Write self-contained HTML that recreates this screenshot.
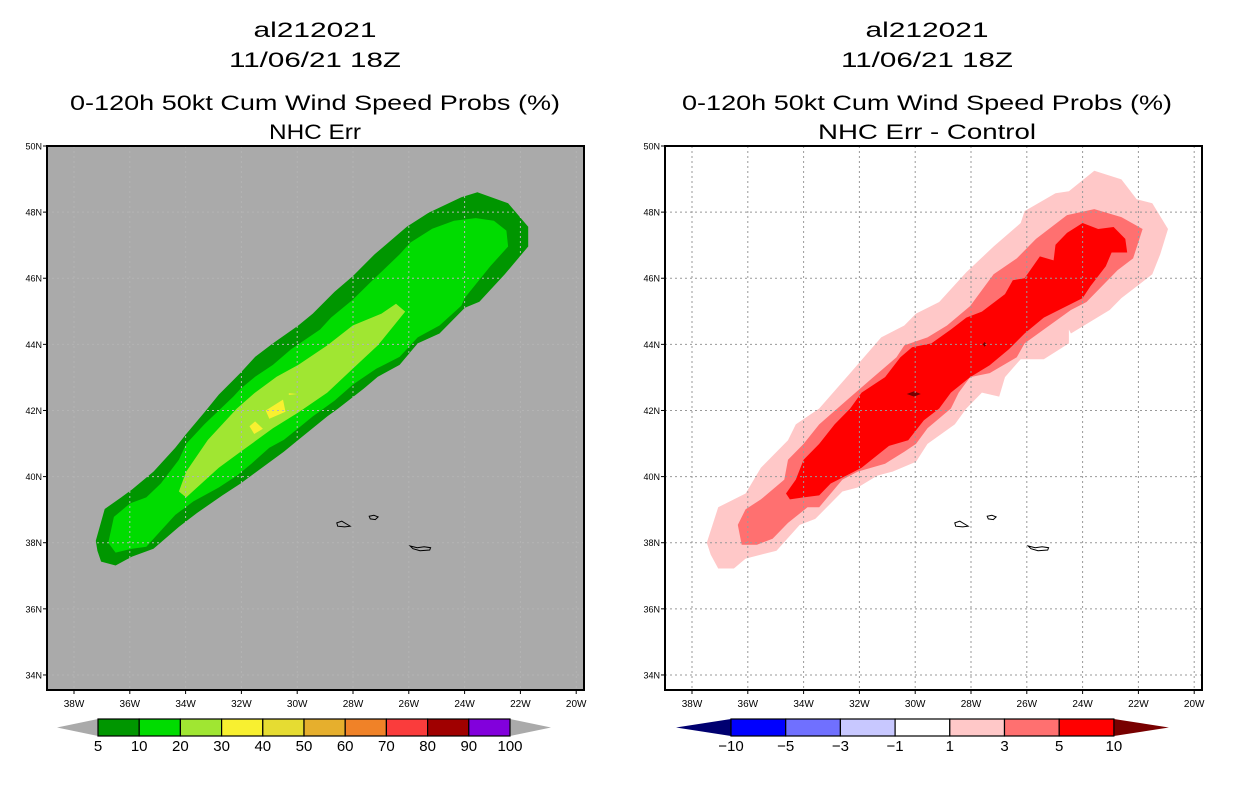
<!DOCTYPE html>
<html><head><meta charset="utf-8"><style>
html,body{margin:0;padding:0;background:#fff;}
svg{display:block;}
text{font-family:"Liberation Sans",sans-serif;}
</style></head><body>
<svg id="s" width="1236" height="800" viewBox="0 0 1236 800" xmlns="http://www.w3.org/2000/svg"></svg>
<script>
// ---- data (lon, lat) ----
const lonTicks=[-38,-36,-34,-32,-30,-28,-26,-24,-22,-20];
const lonTickLabels=["38W","36W","34W","32W","30W","28W","26W","24W","22W","20W"];
const latTicks=[50,48,46,44,42,40,38,36,34];
const latTickLabels=["50N","48N","46N","44N","42N","40N","38N","36N","34N"];

const probLevel5=[[-37.22,38.06],[-36.9,39.02],[-36.31,39.37],[-35.92,39.61],[-35.15,40.15],[-34.37,40.87],[-33.98,41.29],[-33.33,41.94],[-32.81,42.48],[-32.03,43.14],[-31.51,43.62],[-30.87,44.03],[-29.96,44.57],[-29.44,44.93],[-28.66,45.59],[-28.01,46.06],[-27.23,46.72],[-26.07,47.56],[-25.29,47.98],[-24.12,48.45],[-23.54,48.6],[-22.44,48.27],[-21.72,47.56],[-21.72,46.96],[-22.56,46.12],[-23.47,45.29],[-23.99,45.11],[-24.9,44.33],[-25.68,44.03],[-26.33,43.38],[-27.11,43.02],[-27.62,42.66],[-28.53,42.06],[-28.92,41.82],[-29.96,41.11],[-30.48,40.75],[-31.26,40.27],[-32.03,39.79],[-32.68,39.43],[-33.59,38.9],[-34.24,38.48],[-35.15,37.82],[-35.92,37.58],[-36.51,37.31],[-37.03,37.43],[-37.16,37.76]];
const probLevel10=[[-36.77,38.0],[-36.57,38.78],[-35.99,39.19],[-35.41,39.37],[-34.89,39.79],[-34.24,40.51],[-33.98,40.99],[-33.33,41.58],[-32.29,42.42],[-32.03,42.66],[-31.51,43.02],[-30.87,43.38],[-30.22,43.85],[-29.18,44.45],[-28.79,44.81],[-28.01,45.35],[-27.36,45.89],[-26.33,46.72],[-25.94,47.08],[-25.16,47.5],[-24.38,47.74],[-23.6,47.82],[-22.95,47.74],[-22.5,47.44],[-22.44,46.96],[-23.08,46.36],[-23.99,45.41],[-24.12,45.17],[-24.9,44.57],[-25.68,44.21],[-26.33,43.62],[-27.17,43.26],[-28.01,42.78],[-28.66,42.3],[-29.44,41.82],[-29.96,41.46],[-30.48,41.11],[-31.0,40.87],[-31.64,40.39],[-32.16,40.03],[-32.81,39.67],[-33.72,39.25],[-34.37,38.84],[-34.89,38.36],[-35.41,37.88],[-35.92,37.82],[-36.51,37.7]];
const probLevel20=[[-34.24,39.55],[-33.98,40.15],[-33.2,41.11],[-32.16,42.06],[-31.51,42.54],[-30.74,43.02],[-29.96,43.38],[-28.92,43.97],[-28.01,44.57],[-26.98,44.93],[-26.46,45.23],[-26.13,44.99],[-27.11,43.97],[-28.01,43.26],[-28.92,42.54],[-29.96,41.94],[-30.87,41.46],[-32.03,40.75],[-32.81,40.27],[-33.98,39.37]];
const probLevel30a=[[-31.13,42.0],[-30.51,42.33],[-30.42,41.96],[-31.0,41.75]];
const probLevel30b=[[-31.71,41.52],[-31.51,41.67],[-31.23,41.45],[-31.54,41.29]];
const probLevel30c=[[-30.3,42.52],[-30.0,42.5],[-30.3,42.47]];

const diffLevel1=[[-37.47,38.0],[-37.06,39.07],[-36.08,39.49],[-35.53,40.27],[-34.56,41.1],[-34.28,41.58],[-33.44,42.06],[-32.33,43.13],[-31.22,44.21],[-30.39,44.57],[-29.97,44.93],[-29.14,45.28],[-28.17,46.18],[-27.19,46.96],[-26.22,47.67],[-26.08,48.03],[-24.97,48.57],[-24.49,48.63],[-23.58,49.25],[-22.61,48.99],[-22.06,48.39],[-21.5,48.27],[-20.94,47.49],[-21.22,46.72],[-21.5,46.12],[-22.61,45.4],[-23.03,45.04],[-24.42,44.33],[-24.49,44.45],[-24.49,44.03],[-25.39,43.55],[-26.22,43.55],[-26.78,43.01],[-26.99,42.42],[-27.61,42.54],[-28.17,42.06],[-28.58,41.58],[-29.56,40.99],[-29.97,40.45],[-30.81,40.15],[-31.36,40.03],[-32.06,39.67],[-32.61,39.55],[-33.58,38.72],[-34.14,38.54],[-34.97,37.76],[-36.08,37.52],[-36.5,37.22],[-37.06,37.22],[-37.33,37.64]];
const diffLevel3=[[-36.36,38.54],[-36.08,39.01],[-35.53,39.31],[-34.69,39.91],[-34.56,40.51],[-34.0,40.99],[-33.44,41.58],[-32.47,42.3],[-31.5,43.01],[-30.67,43.61],[-30.39,43.97],[-29.56,44.21],[-28.86,44.57],[-28.03,45.16],[-27.19,46.12],[-26.36,46.6],[-25.67,47.19],[-24.56,47.91],[-23.58,48.09],[-22.61,47.85],[-21.85,47.49],[-22.19,46.6],[-22.75,46.24],[-23.86,45.28],[-24.42,45.04],[-25.39,44.45],[-26.08,44.03],[-26.36,43.61],[-27.33,43.13],[-28.03,43.01],[-28.44,42.54],[-28.72,42.06],[-29.56,41.46],[-29.97,40.99],[-30.39,40.75],[-31.08,40.39],[-32.06,40.15],[-32.61,39.91],[-33.44,39.07],[-33.86,39.07],[-34.56,38.6],[-35.11,38.12],[-35.67,37.94],[-36.22,37.94]];
const diffLevel5=[[-34.63,39.49],[-34.28,39.91],[-34.0,40.51],[-33.44,40.99],[-32.89,41.58],[-32.33,42.06],[-31.92,42.54],[-31.08,43.01],[-30.53,43.61],[-30.11,43.91],[-29.42,44.03],[-28.72,44.45],[-28.17,44.81],[-27.61,44.99],[-26.78,45.52],[-26.5,45.94],[-26.08,46.0],[-25.53,46.66],[-25.04,46.54],[-24.97,47.01],[-24.56,47.37],[-24.0,47.67],[-23.44,47.49],[-22.89,47.55],[-22.47,47.19],[-22.4,46.78],[-22.96,46.78],[-23.17,46.36],[-23.72,45.76],[-24.0,45.4],[-25.39,44.81],[-26.08,44.33],[-26.64,43.85],[-27.33,43.37],[-28.03,43.01],[-28.72,42.54],[-29.14,42.06],[-29.69,41.7],[-30.25,41.1],[-30.94,40.93],[-31.92,40.27],[-32.47,40.03],[-33.03,39.79],[-33.44,39.43],[-34.0,39.37],[-34.49,39.31]];
const diffLevel10a=[[-30.3,42.5],[-30.04,42.58],[-29.8,42.5],[-30.04,42.42]];
const diffLevel10b=[[-27.58,44.0],[-27.51,44.07],[-27.44,44.0],[-27.51,43.93]];

const island1=[[-28.58,38.6],[-28.4,38.65],[-28.2,38.55],[-28.1,38.5],[-28.3,38.48],[-28.55,38.5]];
const island2=[[-27.42,38.8],[-27.25,38.83],[-27.1,38.78],[-27.2,38.7],[-27.38,38.72]];
const island3=[[-25.95,37.9],[-25.7,37.85],[-25.45,37.88],[-25.22,37.85],[-25.25,37.78],[-25.6,37.76],[-25.85,37.82]];

const probBounds=["5","10","20","30","40","50","60","70","80","90","100"];
const probColors=["#009600","#00dc00","#a0e632","#f8f030","#e6dc32","#e6af2d","#f08228","#fa3c3c","#a00000","#8200dc"];
const diffBounds=["−10","−5","−3","−1","1","3","5","10"];
const diffColors=["#0000ff","#7070ff","#c8c8ff","#ffffff","#ffc8c8","#ff7070","#ff0000"];

// ---- drawing ----
const NS="http://www.w3.org/2000/svg";
const svg=document.getElementById('s');
function mk(tag,attrs,parent){const e=document.createElementNS(NS,tag);for(const k in attrs)e.setAttribute(k,attrs[k]);(parent||svg).appendChild(e);return e;}
const PXDEG=27.9, PYDEG=33.06, TOP=146, BOT=690, W=537;
function panel(x38,left){
  return {x:lon=>x38+(lon+38)*PXDEG, y:lat=>TOP+(50-lat)*PYDEG, left:left};
}
function poly(P,pts,fill,name,stroke){
  const d=pts.map(p=>P.x(p[0]).toFixed(1)+','+P.y(p[1]).toFixed(1)).join(' ');
  const e=mk('polygon',{points:d,fill:fill});
  if(stroke){e.setAttribute('stroke',stroke);e.setAttribute('stroke-width','1');e.setAttribute('fill','none');}
  
  
  return e;
}
function titles(cx,lines){
  const ys=[37,67,110,139];const ws=[123,172,490,lines[3].length>10?218:92];
  lines.forEach((t,i)=>{const e=mk('text',{x:cx,y:ys[i],'text-anchor':'middle','font-size':'21',textLength:ws[i],lengthAdjust:'spacingAndGlyphs',fill:'#000'});e.textContent=t;
    
    });
}
function axes(P,bgGrid){
  lonTicks.forEach((v,i)=>{
    const x=P.x(v);
    const g=mk('line',{x1:x,x2:x,y1:TOP,y2:BOT,stroke:bgGrid,'stroke-width':1,'stroke-dasharray':'2,3'});
    
    
    mk('line',{x1:x,x2:x,y1:BOT,y2:BOT+4,stroke:'#000'});
    const t=mk('text',{x:x,y:BOT+17,'text-anchor':'middle','font-size':'10',fill:'#000'});t.textContent=lonTickLabels[i];
    
    
  });
  latTicks.forEach((v,i)=>{
    const y=P.y(v);
    const g=mk('line',{x1:P.left,x2:P.left+W,y1:y,y2:y,stroke:bgGrid,'stroke-width':1,'stroke-dasharray':'2,3'});
    
    
    mk('line',{x1:P.left-4,x2:P.left,y1:y,y2:y,stroke:'#000'});
    const t=mk('text',{x:P.left-5,y:y+3.5,'text-anchor':'end','font-size':'9',fill:'#000'});t.textContent=latTickLabels[i];
    
    
  });
}
function islands(P){
  poly(P,island1,'none','island-pico','#000');
  poly(P,island2,'none','island-terceira','#000');
  poly(P,island3,'none','island-sao-miguel','#000');
}
function frame(P){
  const f=mk('rect',{x:P.left,y:TOP,width:W,height:BOT-TOP,fill:'none',stroke:'#000','stroke-width':2});
  
  
}
function colorbar(x0,boxW,y0,h,colors,bounds,lowC,highC,triW,name){
  const g=mk('g',{});
  
  
  const n=colors.length, x1=x0+n*boxW, ym=y0+h/2;
  mk('polygon',{points:`${x0-triW},${ym} ${x0},${y0} ${x0},${y0+h}`,fill:lowC},g);
  mk('polygon',{points:`${x1+triW},${ym} ${x1},${y0} ${x1},${y0+h}`,fill:highC},g);
  colors.forEach((c,i)=>{const r=mk('rect',{x:x0+i*boxW,y:y0,width:boxW,height:h,fill:c,stroke:'#000','stroke-width':1.2},g);
    
    });
  bounds.forEach((b,i)=>{const t=mk('text',{x:x0+i*boxW,y:y0+h+15,'text-anchor':'middle','font-size':'15',fill:'#000'},g);t.textContent=b;
    
    });
}

// Left panel
const L=panel(74,47);
titles(315,["al212021","11/06/21 18Z","0-120h 50kt Cum Wind Speed Probs (%)","NHC Err"]);
const bgL=mk('rect',{x:47,y:TOP,width:W,height:BOT-TOP,fill:'#aaaaaa'});


poly(L,probLevel5,probColors[0],'prob-5-contour');
poly(L,probLevel10,probColors[1],'prob-10-contour');
poly(L,probLevel20,probColors[2],'prob-20-contour');
poly(L,probLevel30a,probColors[3],'prob-30-spot');
poly(L,probLevel30b,probColors[3],'prob-30-spot');
poly(L,probLevel30c,probColors[3],'prob-30-spot');
axes(L,'#b4b4b4');
islands(L);
frame(L);
colorbar(98,41.2,719,17,probColors,probBounds,'#aaaaaa','#aaaaaa',41,'prob-colorbar');

// Right panel
const R=panel(692,665);
titles(927,["al212021","11/06/21 18Z","0-120h 50kt Cum Wind Speed Probs (%)","NHC Err - Control"]);
const bgR=mk('rect',{x:665,y:TOP,width:W,height:BOT-TOP,fill:'#ffffff'});


poly(R,diffLevel1,diffColors[4],'diff-1-contour');
poly(R,diffLevel3,diffColors[5],'diff-3-contour');
poly(R,diffLevel5,diffColors[6],'diff-5-contour');
poly(R,diffLevel10a,'#780000','diff-10-spot');
poly(R,diffLevel10b,'#780000','diff-10-spot');
axes(R,'#999999');
islands(R);
frame(R);
colorbar(731,54.7,719,17,diffColors,diffBounds,'#000070','#780000',55,'diff-colorbar');
</script>
</body></html>
